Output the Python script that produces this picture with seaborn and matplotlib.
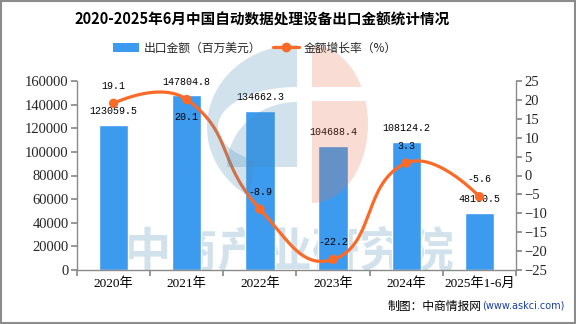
import numpy as np
import pandas as pd
import matplotlib
matplotlib.use("Agg")
import matplotlib.pyplot as plt
import seaborn as sns
from matplotlib.patches import Patch, Polygon, Rectangle
from matplotlib.lines import Line2D
from matplotlib.transforms import IdentityTransform

# ---------------- data ----------------
categories = ["2020年", "2021年", "2022年", "2023年", "2024年", "2025年1-6月"]
export_value = [123059.5, 147804.8, 134662.3, 104688.4, 108124.2, 48160.5]
growth_rate = [19.1, 20.1, -8.9, -22.2, 3.3, -5.6]
left_ticks = [0, 20000, 40000, 60000, 80000, 100000, 120000, 140000, 160000]
right_ticks = [-25, -20, -15, -10, -5, 0, 5, 10, 15, 20, 25]
series_names = ["出口金额（百万美元）", "金额增长率（%）"]
title_text = "2020-2025年6月中国自动数据处理设备出口金额统计情况"

# label placement (+1 above the point, -1 below)
growth_label_side = [1, -1, 1, 1, 1, 1]

BAR_C = "#3d9bef"
LINE_C = "#fc6a28"
AX_C = "#8a8a8a"
LOGO_BLUE = (75 / 255, 143 / 255, 187 / 255)
LOGO_PINK = (232 / 255, 112 / 255, 74 / 255)

sns.set_theme(style="white")
plt.rcParams["font.family"] = ["Noto Sans CJK SC", "DejaVu Sans"]

W, H = 576, 324
fig = plt.figure(figsize=(W / 100, H / 100), dpi=100)

# watermark text (behind the bars)
fig.text(289 / W, 1 - 252 / H, "中商产业研究院", fontsize=34, fontweight="bold",
         color=LOGO_BLUE, alpha=0.25, ha="center", va="center",
         zorder=-1, family=["Noto Sans CJK SC"])

ax = fig.add_axes([77 / W, 54 / H, 439 / W, 189 / H])
ax.patch.set_alpha(0)

df = pd.DataFrame({"cat": categories, "value": export_value})
sns.barplot(data=df, x="cat", y="value", color=BAR_C, width=0.4, saturation=1,
            ax=ax, zorder=2)
ax.set_xlim(-0.5, len(categories) - 0.5)
ax.set_ylim(left_ticks[0], left_ticks[-1])
ax.set_xlabel("")
ax.set_ylabel("")

ax2 = ax.twinx()
ax2.set_ylim(right_ticks[0], right_ticks[-1])
ax2.patch.set_alpha(0)

# spines
for s in ["top", "right"]:
    ax.spines[s].set_visible(False)
for s in ["top", "left", "bottom"]:
    ax2.spines[s].set_visible(False)
for sp in [ax.spines["left"], ax.spines["bottom"], ax2.spines["right"]]:
    sp.set_color(AX_C)
    sp.set_linewidth(1.0)

# ticks
tick_font = ["Liberation Serif", "Noto Sans CJK SC"]
ax.set_xticks(np.arange(-0.5, len(categories), 1.0))
ax.set_xticklabels([])
ax.set_xticks(np.arange(len(categories)), minor=True)
ax.set_xticklabels(categories, minor=True, fontsize=9.5, family=tick_font, color="black")
ax.tick_params(axis="x", which="major", length=4, color=AX_C, direction="out", bottom=True)
ax.tick_params(axis="x", which="minor", length=0, pad=5, bottom=True)
ax.set_yticks(left_ticks)
ax.set_yticklabels([str(v) for v in left_ticks], fontsize=10.5, family=tick_font)
ax.tick_params(axis="y", length=4, color=AX_C, direction="out", pad=2, left=True)
ax2.set_yticks(right_ticks)
ax2.set_yticklabels([("−" + str(-v)) if v < 0 else str(v) for v in right_ticks],
                    fontsize=10.5, family=tick_font)
ax2.tick_params(axis="y", length=4, color=AX_C, direction="out", pad=2, right=True)
ax.grid(False)
ax2.grid(False)

# value labels on bars
lab_font = ["Liberation Mono", "DejaVu Sans Mono"]
for i, v in enumerate(export_value):
    ax.annotate(f"{v:.1f}", (i, v), xytext=(0, 10), textcoords="offset points",
                ha="center", va="center", fontsize=7.2, family=lab_font, color="black",
                zorder=6)

# smooth line (echarts-like bezier smoothing, computed in pixel space)
xpos = np.arange(len(categories))
pts = ax2.transData.transform(np.column_stack([xpos, growth_rate]))
smooth = 0.5
curve = [pts[0]]
cp0 = pts[0].copy()
n = len(pts)
for k in range(1, n):
    p = pts[k]
    prev = pts[k - 1]
    if k == n - 1:
        ncp0 = p.copy()
        v = np.zeros(2)
        ratio = 0.5
    else:
        nxt = pts[k + 1]
        v = nxt - prev
        l0 = np.hypot(*(p - prev))
        l1 = np.hypot(*(nxt - p))
        ratio = l1 / (l0 + l1)
        ncp0 = p - v * smooth * (1 - ratio)
    t = np.linspace(0, 1, 40)[1:, None]
    seg = ((1 - t) ** 3) * prev + 3 * ((1 - t) ** 2) * t * cp0 + 3 * (1 - t) * t ** 2 * ncp0 + t ** 3 * p
    curve.extend(seg)
    cp0 = p + v * smooth * ratio
curve = ax2.transData.inverted().transform(np.array(curve))
ax2.plot(curve[:, 0], curve[:, 1], color=LINE_C, lw=2.3, zorder=3, solid_capstyle="round")
sns.scatterplot(x=xpos, y=growth_rate, ax=ax2, color=LINE_C, s=45, edgecolor="none",
                zorder=4, legend=False)

for i, g in enumerate(growth_rate):
    ax2.annotate(f"{g:.1f}", (i, g), xytext=(0, 12.5 * growth_label_side[i]),
                 textcoords="offset points", ha="center", va="center", fontsize=7.2,
                 family=lab_font, color="black", zorder=6)
ax2.set_xlim(-0.5, len(categories) - 0.5)


# ---------------- background logo (semi-transparent, drawn on top) ----------------
def ell(cx, cy, rx, ry, a0, a1, num=80):
    a = np.radians(np.linspace(a0, a1, num))
    return np.column_stack([cx + rx * np.cos(a), (H - cy) + ry * np.sin(a)])


def add_logo(verts, color, alpha, clip=None):
    p = Polygon(verts, closed=True, transform=IdentityTransform(), facecolor=color,
                alpha=alpha, edgecolor="none", zorder=5)
    if clip is not None:
        y0, y1 = clip  # image-pixel band (top, bottom)
        r = Rectangle((0, H - y1), W, y1 - y0, transform=IdentityTransform())
        p.set_clip_path(r)
    fig.patches.append(p)


# blue "C": outer ring + inner quarter blob
ring = np.vstack([ell(297, 127, 90, 82, 90, 238), ell(297, 127, 79, 40, 238, 90)])
add_logo(ring, LOGO_BLUE, 0.25)
blob = np.vstack([ell(297, 167, 70, 65, 90, 180), [[297, H - 167]]])
add_logo(blob, LOGO_BLUE, 0.25)
# pink half disc, split by a thin white stripe
pink = np.vstack([ell(312, 124, 56, 79, -90, 90), [[312, H - 124]]])
add_logo(pink, LOGO_PINK, 0.23, clip=(0, 87))
add_logo(pink, LOGO_PINK, 0.23, clip=(101, H))

# title and legend
fig.text(262 / W, 1 - 20 / H, title_text, fontsize=10.5, fontweight="bold",
         ha="center", va="center", color="black")
handles = [Patch(facecolor=BAR_C, edgecolor="none"),
           Line2D([0], [0], color=LINE_C, lw=2.3, marker="o", markersize=6,
                  markeredgecolor=LINE_C)]
fig.legend(handles, series_names, loc="center", bbox_to_anchor=(255 / W, 1 - 48 / H),
           ncol=2, frameon=False, fontsize=8.5, handlelength=2.2, handleheight=0.7,
           columnspacing=1.0, handletextpad=0.4)

# source note
fig.text(482 / W, 1 - 306 / H, "制图：中商情报网", fontsize=8.5, ha="right", va="center",
         color="black")
fig.text(482 / W, 1 - 306 / H, "(www.askci.com)", fontsize=7, ha="left", va="center",
         color="#1a3ea6", family=["DejaVu Sans"])

# outer border
fig.patches.append(Rectangle((0.001, 0.002), 0.997, 0.995, transform=fig.transFigure,
                             fill=False, edgecolor="#8c8c8c", lw=1.5, zorder=10))

fig.savefig("out.png", dpi=100)
